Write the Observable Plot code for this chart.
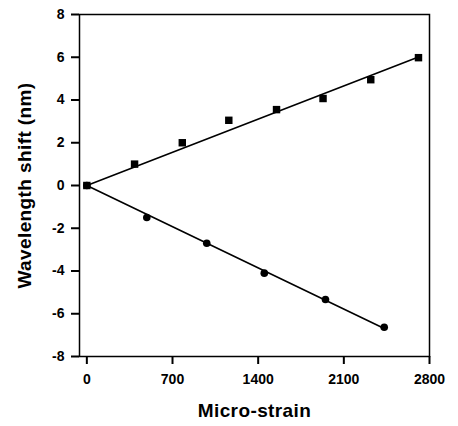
<!DOCTYPE html>
<html>
<head>
<meta charset="utf-8">
<script src="https://cdn.jsdelivr.net/npm/d3@7"></script>
<script src="https://cdn.jsdelivr.net/npm/@observablehq/plot@0.6"></script>
<style>
  html, body { margin: 0; padding: 0; background: #fff; }
  svg { font-family: "Liberation Sans", Arial, sans-serif; }
  g[aria-label="x-axis label"] text, g[aria-label="y-axis label"] text { font-size: 19px; letter-spacing: 0.4px; }
</style>
</head>
<body>
<div id="chart"></div>
<script>
const strainUp = [0, 390, 780, 1160, 1550, 1930, 2320, 2710];
const shiftUp = [0, 1.0, 2.0, 3.05, 3.55, 4.07, 4.95, 5.98];
const strainDown = [0, 490, 980, 1450, 1950, 2430];
const shiftDown = [0, -1.5, -2.7, -4.1, -5.33, -6.63];
const xTicks = [0, 700, 1400, 2100, 2800];
const yTicks = [-8, -6, -4, -2, 0, 2, 4, 6, 8];

const up = strainUp.map((x, i) => ({x, y: shiftUp[i]}));
const down = strainDown.map((x, i) => ({x, y: shiftDown[i]}));

// least-squares fit through the origin
function fitLine(data) {
  const k = d3.sum(data, d => d.x * d.y) / d3.sum(data, d => d.x * d.x);
  const [x0, x1] = d3.extent(data, d => d.x);
  return [{x: x0, y: k * x0}, {x: x1, y: k * x1}];
}

const chart = Plot.plot({
  width: 458,
  height: 426,
  marginLeft: 79,
  marginRight: 29,
  marginTop: 14,
  marginBottom: 70,
  style: {fontFamily: '"Liberation Sans", Arial, sans-serif', fontSize: "14px", fontWeight: "bold", color: "black"},
  x: {domain: [-60, 2800]},
  y: {domain: [-8, 8]},
  marks: [
    Plot.frame({stroke: "black", strokeWidth: 1.5}),
    Plot.axisX({ticks: xTicks, tickFormat: d => String(d), tickSize: 8, tickPadding: 10, stroke: "black", strokeWidth: 2, label: null}),
    Plot.axisY({ticks: yTicks, tickFormat: d => String(d), tickSize: 8, tickPadding: 7, stroke: "black", strokeWidth: 2, label: null}),
    Plot.axisX({ticks: [], label: "Micro-strain", labelAnchor: "center", labelArrow: "none", labelOffset: 60}),
    Plot.axisY({ticks: [], label: "Wavelength shift (nm)", labelAnchor: "center", labelArrow: "none", labelOffset: 62}),
    Plot.line(fitLine(up), {x: "x", y: "y", stroke: "black", strokeWidth: 1.6}),
    Plot.line(fitLine(down), {x: "x", y: "y", stroke: "black", strokeWidth: 1.6}),
    Plot.dot(up, {x: "x", y: "y", symbol: "square", r: 4.2, fill: "black"}),
    Plot.dot(down, {x: "x", y: "y", symbol: "circle", r: 3.8, fill: "black"})
  ]
});
document.getElementById("chart").appendChild(chart);
</script>
</body>
</html>
